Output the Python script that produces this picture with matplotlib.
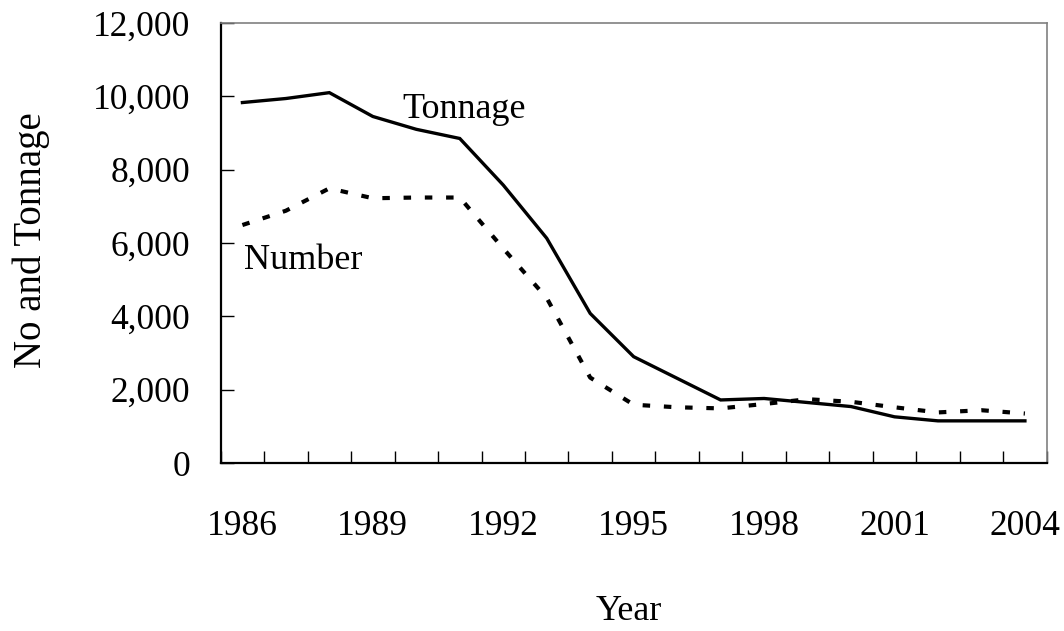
import numpy as np
import matplotlib
matplotlib.use("Agg")
import matplotlib.pyplot as plt
from matplotlib.ticker import FuncFormatter, MultipleLocator

years = list(range(1986, 2005))
tonnage = [9830, 9940, 10100, 9450, 9100, 8850, 7580, 6130, 4080, 2900,
           2310, 1720, 1760, 1650, 1540, 1260, 1150, 1150, 1150]
number = [6490, 6880, 7490, 7220, 7240, 7240, 5850, 4500, 2330, 1590,
          1520, 1490, 1610, 1740, 1670, 1520, 1380, 1440, 1350]
year_labels = [1986, 1989, 1992, 1995, 1998, 2001, 2004]

plt.rcParams['font.family'] = ['Liberation Serif', 'DejaVu Serif']

fig = plt.figure(figsize=(10.64, 6.31), dpi=100)
ax = fig.add_axes([0.2074, 0.2662, 0.7763, 0.6974])

#lines
ax.plot(years, tonnage, color='black', lw=2.4, solid_joinstyle='miter')
ax.plot(years, number, color='black', lw=3.0, linestyle=(0, (1.8, 3.3)),
        dash_capstyle='butt')

ax.text(1991.1, 9630, "Tonnage", fontsize=26, ha='center', va='center')
ax.text(1987.4, 5510, "Number", fontsize=26, ha='center', va='center')

#axes
ax.set_xlim(1985.5, 2004.5)
ax.set_ylim(0, 12000)
ax.set_xticks(year_labels)
ax.set_xticks(np.arange(1985.5, 2005, 1.0), minor=True)
ax.yaxis.set_major_locator(MultipleLocator(2000))
ax.yaxis.set_major_formatter(FuncFormatter(lambda v, p: "{:,.0f}".format(v)))

ax.tick_params(axis='x', which='major', length=0, pad=34, labelsize=25.5)
ax.tick_params(axis='x', which='minor', direction='in', length=9, width=1)
ax.tick_params(axis='y', direction='in', length=9, width=1, pad=22, labelsize=25.5)

for s in ['left', 'bottom']:
    ax.spines[s].set_linewidth(1.6)
    ax.spines[s].set_color('black')
for s in ['top', 'right']:
    ax.spines[s].set_linewidth(1.2)
    ax.spines[s].set_color('#808080')

fig.text(31 / 1064, 1 - 240 / 631, "No and Tonnage", rotation=90,
         fontsize=28, ha='center', va='center')
fig.text(629 / 1064, 1 - 612 / 631, "Year", fontsize=26, ha='center', va='center')

fig.savefig("out.png", dpi=100)
